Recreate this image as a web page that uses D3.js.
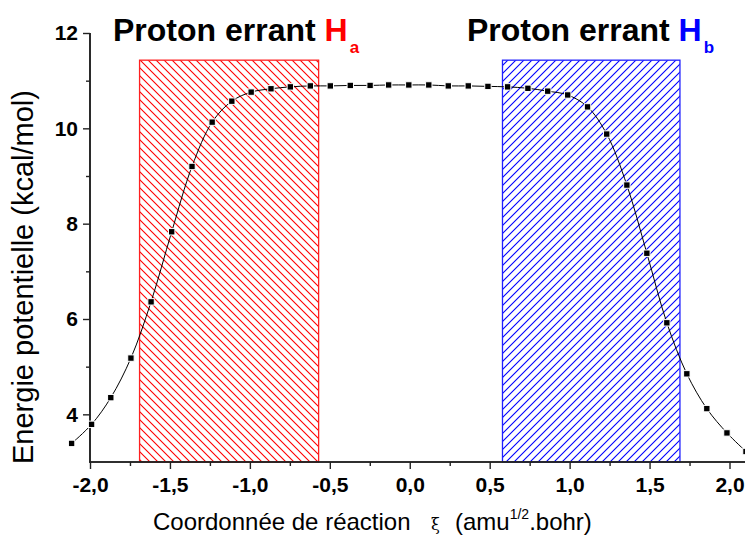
<!DOCTYPE html>
<html><head><meta charset="utf-8">
<script src="https://cdn.jsdelivr.net/npm/d3@7"></script>
<style>body{margin:0;background:#fff}svg{display:block}</style>
</head><body>
<svg id="c" width="745" height="535"></svg>
<script>
const xi = [-2.115,-1.99,-1.87,-1.744,-1.618,-1.489,-1.362,-1.236,-1.113,-0.992,-0.868,-0.747,-0.622,-0.497,-0.372,-0.248,-0.132,-0.006,0.119,0.241,0.366,0.489,0.612,0.739,0.863,0.988,1.112,1.232,1.358,1.483,1.608,1.733,1.858,1.984,2.103];
const energy = [3.39,3.79,4.35,5.18,6.36,7.83,9.20,10.13,10.57,10.76,10.83,10.87,10.89,10.89,10.90,10.90,10.91,10.91,10.91,10.89,10.89,10.88,10.87,10.84,10.78,10.70,10.45,9.88,8.81,7.38,5.92,4.85,4.12,3.61,3.22];
const regionA = [-1.69,-0.57];
const regionB = [0.58,1.69];
const regionTop = 11.43;
const xTicks = [-2.0,-1.5,-1.0,-0.5,0.0,0.5,1.0,1.5,2.0];
const xMinor = [-1.75,-1.25,-0.75,-0.25,0.25,0.75,1.25,1.75];
const yTicks = [4,6,8,10,12];
const yMinor = [5,7,9,11];

const svg = d3.select("#c");
const x = d3.scaleLinear().domain([-2.0,2.1]).range([90,745.5]);
const y = d3.scaleLinear().domain([3,12]).range([462,33]);
const fmt = v => v.toFixed(1).replace(".", ",");

const defs = svg.append("defs");
function hatch(id, color, dir){
  const p = defs.append("pattern").attr("id",id).attr("patternUnits","userSpaceOnUse")
    .attr("width",8).attr("height",8);
  const d = dir==="back" ? "M0,0L8,8M-2,6L2,10M6,-2L10,2" : "M0,8L8,0M-2,2L2,-2M6,10L10,6";
  p.append("path").attr("d",d).attr("stroke",color).attr("stroke-width",1.1).attr("fill","none");
}
hatch("hr","#ff0000","back");
hatch("hb","#0000ff","fwd");

// regions
[[regionA,"url(#hr)","#ff2020"],[regionB,"url(#hb)","#2020ff"]].forEach(([r,f,s])=>{
  svg.append("rect").attr("x",x(r[0])).attr("y",y(regionTop))
    .attr("width",x(r[1])-x(r[0])).attr("height",y(3)-y(regionTop))
    .attr("fill",f).attr("stroke",s).attr("stroke-width",1.3);
});

// axes
const ax = svg.append("g").attr("transform",`translate(0,${y(3)})`);
ax.call(d3.axisBottom(x).tickValues(xTicks).tickFormat(fmt).tickSize(7).tickPadding(8));
ax.append("g").call(d3.axisBottom(x).tickValues(xMinor).tickFormat("").tickSize(4));
const ay = svg.append("g").attr("transform",`translate(${x(-2.0)},0)`);
ay.call(d3.axisLeft(y).tickValues(yTicks).tickFormat(d3.format("d")).tickSize(7).tickPadding(5));
ay.append("g").call(d3.axisLeft(y).tickValues(yMinor).tickFormat("").tickSize(4));
svg.selectAll(".domain").attr("stroke","#222").attr("stroke-width",1.6);
svg.selectAll(".tick line").attr("stroke","#222").attr("stroke-width",1.4);
ay.selectAll(".domain").attr("d",`M0,${y(3)}V${y(12)}`);
ax.selectAll(".domain").attr("d",`M${x(-2.0)-1},0H745`);
svg.selectAll(".tick text").attr("font-family","Liberation Sans, Arial, sans-serif")
  .attr("font-weight","bold").attr("font-size",21).attr("fill","#000");

// line + markers
const pts = xi.map((v,i)=>[v,energy[i]]);
svg.append("path").datum(pts)
  .attr("d",d3.line().x(d=>x(d[0])).y(d=>y(d[1])).curve(d3.curveCatmullRom))
  .attr("fill","none").attr("stroke","#000").attr("stroke-width",1);
svg.append("g").selectAll("rect").data(pts).join("rect")
  .attr("x",d=>x(d[0])-3.2).attr("y",d=>y(d[1])-3.2).attr("width",6.4).attr("height",6.4)
  .attr("fill","#000").attr("stroke","#fff").attr("stroke-width",1);

// titles
const font = "Liberation Sans, Arial, sans-serif";
function title(x0, sub, color){
  const t = svg.append("text").attr("x",x0).attr("y",41).attr("font-family",font)
    .attr("font-weight","bold").attr("font-size",32).attr("fill","#000");
  t.append("tspan").text("Proton errant ");
  t.append("tspan").attr("fill",color).text("H");
  t.append("tspan").attr("fill",color).attr("font-size",17).attr("dx",2).attr("dy",12).text(sub);
}
title(113,"a","#ff0000");
title(467,"b","#0000ff");

// axis labels
svg.append("text").attr("transform","translate(33,277) rotate(-90)").attr("text-anchor","middle")
  .attr("font-family",font).attr("font-size",29).attr("fill","#000").text("Energie potentielle (kcal/mol)");
const xl = svg.append("text").attr("x",153).attr("y",530).attr("font-family",font)
  .attr("font-size",24).attr("fill","#000");
xl.append("tspan").text("Coordonnée de réaction");
xl.append("tspan").attr("x",431).attr("font-family","DejaVu Serif, serif").attr("font-size",16).text("ξ");
xl.append("tspan").attr("x",455).text("(amu");
xl.append("tspan").attr("font-size",14).attr("dy",-11).text("1/2");
xl.append("tspan").attr("dy",11).text(".bohr)");
</script>
</body></html>
